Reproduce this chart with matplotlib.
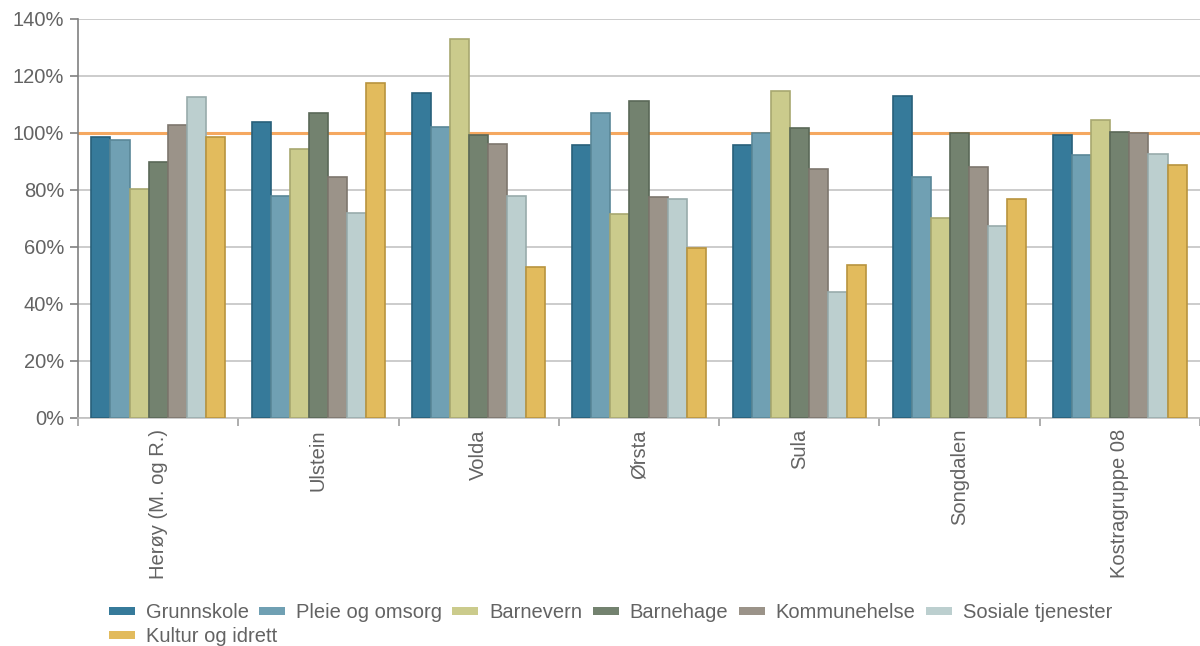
import matplotlib
matplotlib.use("Agg")
import matplotlib.pyplot as plt
import numpy as np
from matplotlib.patches import Patch
from matplotlib.ticker import FuncFormatter

plt.rcParams["font.family"] = ["Liberation Sans", "DejaVu Sans"]

municipalities = ["Herøy (M. og R.)", "Ulstein", "Volda", "Ørsta", "Sula",
                  "Songdalen", "Kostragruppe 08"]
series_names = ["Grunnskole", "Pleie og omsorg", "Barnevern", "Barnehage",
                "Kommunehelse", "Sosiale tjenester", "Kultur og idrett"]

grunnskole = [98.6, 103.9, 114.0, 95.7, 95.7, 113.0, 99.2]
pleie = [97.5, 77.9, 102.2, 106.9, 99.9, 84.5, 92.2]
barnevern = [80.4, 94.5, 133.0, 71.5, 114.7, 70.2, 104.7]
barnehage = [89.8, 106.9, 99.2, 111.2, 101.8, 99.9, 100.4]
kommunehelse = [102.8, 84.5, 96.2, 77.4, 87.4, 88.1, 99.9]
sosiale = [112.7, 72.0, 77.9, 76.8, 44.2, 67.4, 92.6]
kultur = [98.6, 117.6, 53.1, 59.5, 53.7, 76.8, 88.8]

reference_level = 100

values = [grunnskole, pleie, barnevern, barnehage, kommunehelse, sosiale, kultur]
fill_colors = ["#367a9a", "#70a0b3", "#cbcb8c", "#73826f", "#9b9389", "#bccfcf", "#e2bb5d"]
edge_colors = ["#28607a", "#5a8798", "#a8a870", "#5a6857", "#7e776e", "#98acac", "#b8943e"]
text_color = "#636363"

fig = plt.figure(figsize=(12, 6.46), dpi=100)
ax = fig.add_axes([0.065, 0.353, 0.935, 0.6176])

x = np.arange(len(municipalities))
bar_w = 0.119
n = len(values)
for i, (vals, fc, ec) in enumerate(zip(values, fill_colors, edge_colors)):
    offset = (i - (n - 1) / 2) * bar_w
    ax.bar(x + offset, vals, width=bar_w, color=fc, edgecolor=ec, linewidth=1.2,
           zorder=3, label=series_names[i])

ax.axhline(reference_level, color="#f5a860", linewidth=2.2, zorder=2)

ax.set_ylim(0, 140)
ax.set_xlim(-0.5, 6.48)
ax.set_yticks(np.arange(0, 141, 20))
ax.yaxis.set_major_formatter(FuncFormatter(lambda v, p: f"{v:.0f}%"))
ax.grid(axis="y", color="#c8c8c8", linewidth=1.3, zorder=0)

ax.set_xticks(x)
ax.set_xticklabels(municipalities, rotation=90, va="top", ha="center")
ax.set_xticks(np.arange(-0.5, len(municipalities), 1), minor=True)
ax.tick_params(axis="x", which="major", length=0, pad=8, labelsize=14.5, labelcolor=text_color)
ax.tick_params(axis="x", which="minor", length=6, width=1.2, color="#a0a0a0")
ax.tick_params(axis="y", length=6, width=1.2, color="#808080", labelsize=14.5,
               labelcolor=text_color, pad=4)

for side in ["top", "right"]:
    ax.spines[side].set_visible(False)
ax.spines["left"].set_color("#808080")
ax.spines["left"].set_linewidth(1.2)
ax.spines["bottom"].set_color("#c0c0c0")
ax.spines["bottom"].set_linewidth(1.2)

# two legends so the first row flows like text instead of a grid
leg_kw = dict(loc="upper left", frameon=False, fontsize=14.5, handlelength=1.3,
              handleheight=0.25, handletextpad=0.55, columnspacing=0.5,
              borderaxespad=0, borderpad=0)
handles = [Patch(facecolor=fc, edgecolor="none") for fc in fill_colors]
leg1 = fig.legend(handles[:6], series_names[:6], ncol=6,
                  bbox_to_anchor=(0.0905, 0.066), **leg_kw)
leg2 = fig.legend(handles[6:], series_names[6:], ncol=1,
                  bbox_to_anchor=(0.0905, 0.029), **leg_kw)
for leg in (leg1, leg2):
    for t in leg.get_texts():
        t.set_color(text_color)

fig.savefig("out.png", dpi=100)
